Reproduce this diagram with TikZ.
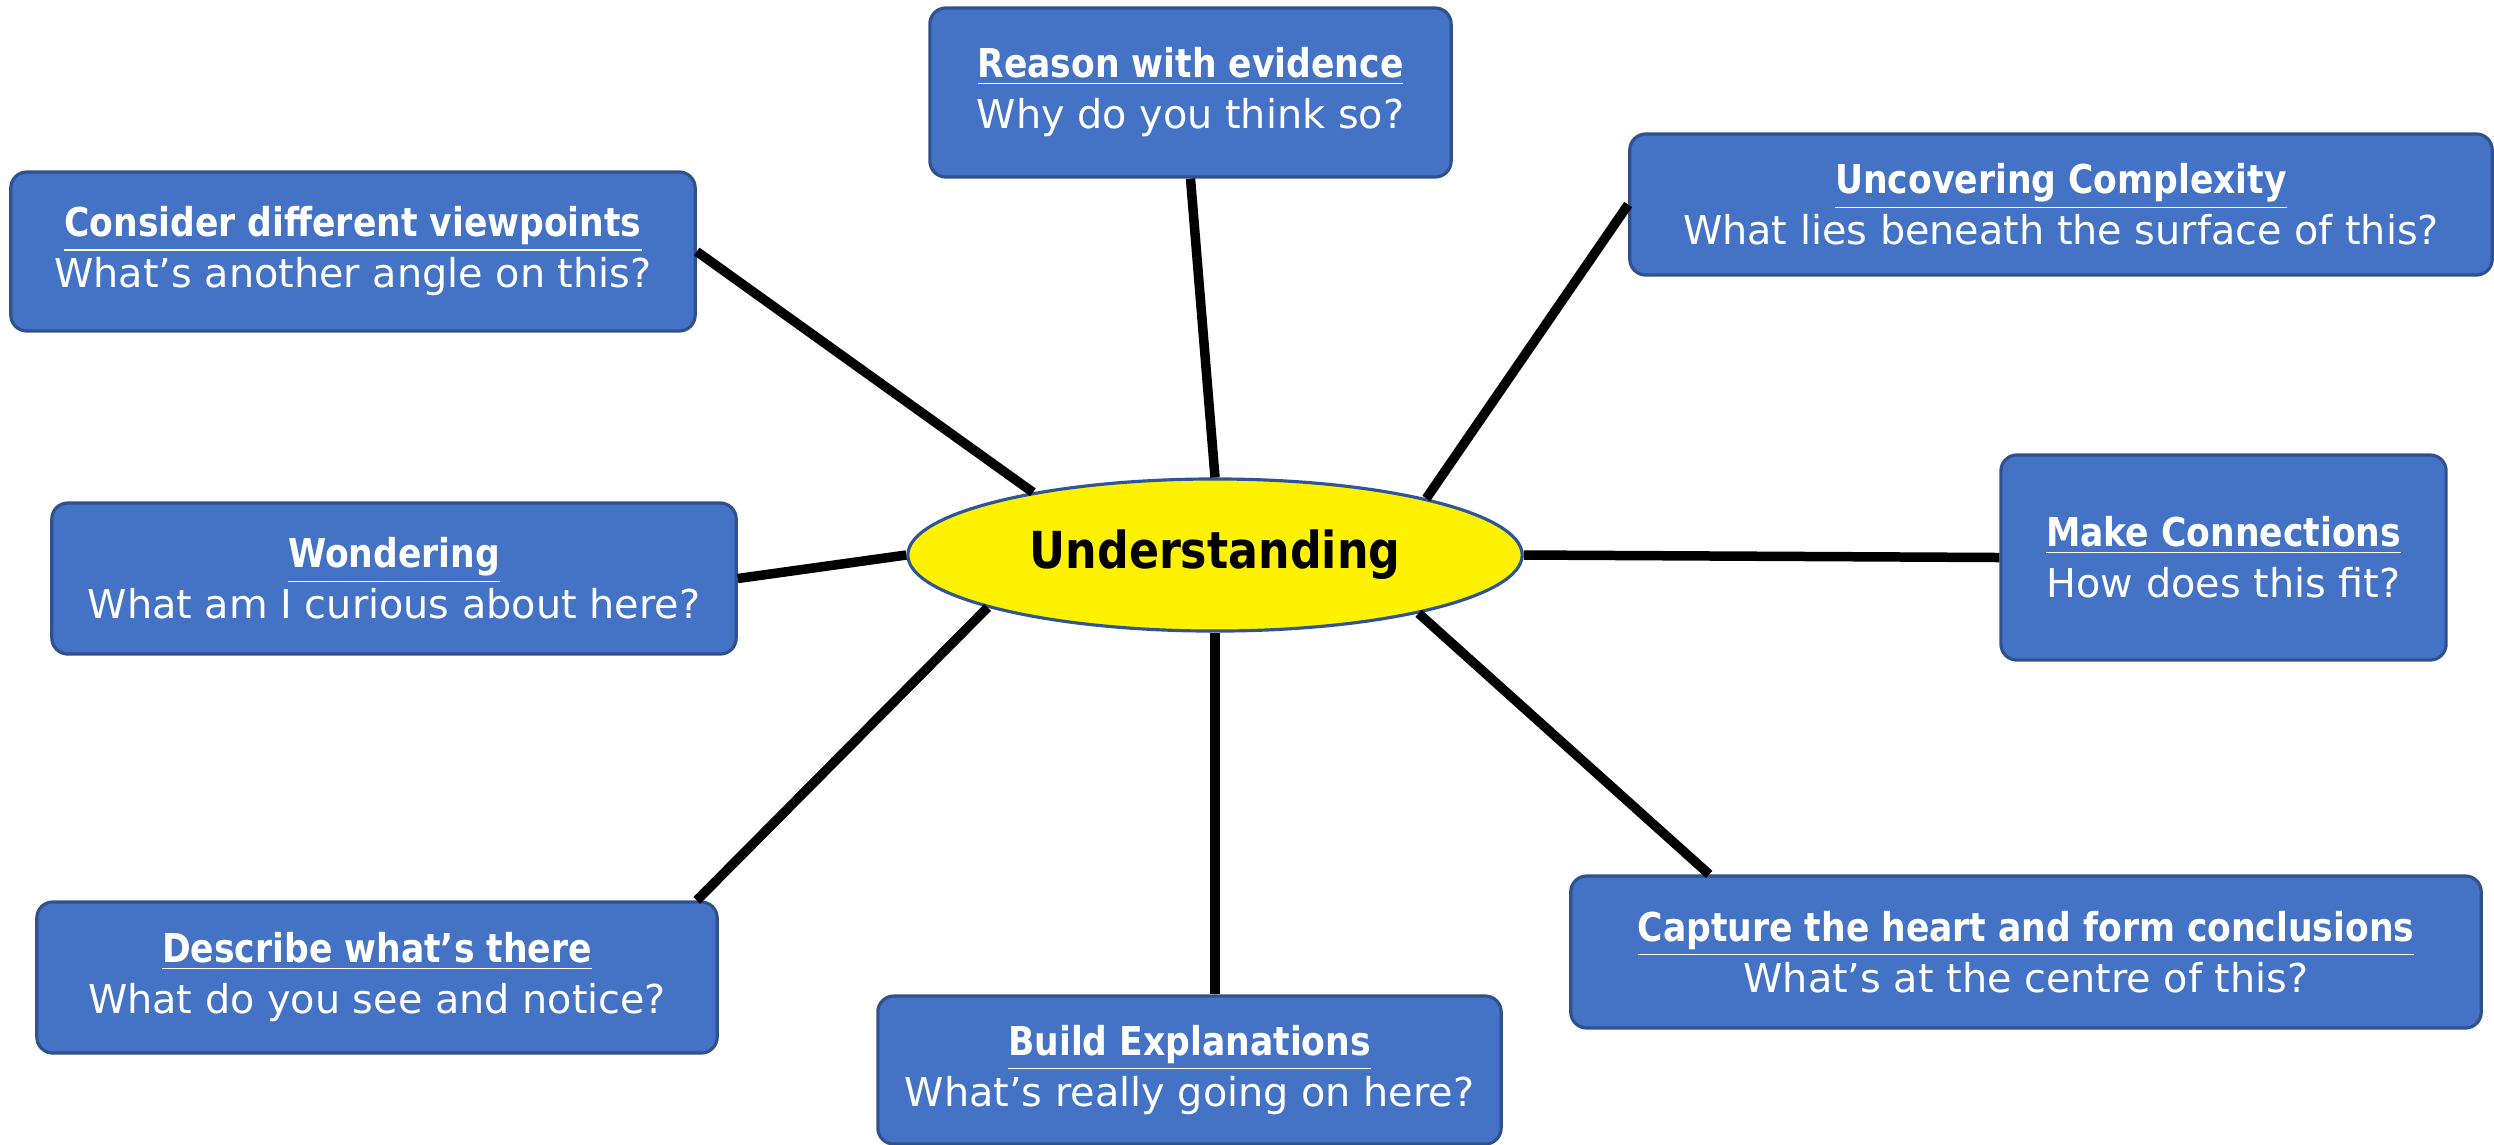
\documentclass[tikz,border=0pt]{standalone}
\usepackage{fontspec}
\setmainfont{DejaVu Sans}[BoldFeatures={FakeStretch=0.87}]
\usetikzlibrary{shapes.geometric}
\definecolor{cardfill}{HTML}{4472C4}
\definecolor{cardedge}{HTML}{2F528F}
\definecolor{hubedge}{HTML}{2F5597}
\begin{document}
\begin{tikzpicture}[x=0.01cm,y=-0.01cm]
\tikzset{
  card/.style={draw=cardedge, fill=cardfill, rounded corners=0.16cm, line width=0.9pt,
    text=white, align=center, inner sep=0pt, font=\fontsize{11.3}{14.5}\selectfont},
  hub/.style={ellipse, draw=hubedge, fill=yellow, line width=0.9pt, inner sep=0pt,
    minimum width=6.14cm, minimum height=1.52cm, font=\fontsize{14.5}{17}\selectfont\bfseries},
  spoke/.style={line width=2.7pt, black}
}
\useasboundingbox (0,0) rectangle (2494,1144);

\node[hub] (under) at (1215,555) {Understanding};

\node[card, minimum width=5.21cm, minimum height=1.69cm] (reason) at (1190.5,92.5)
  {\textbf{\underline{Reason with evidence}}\\Why do you think so?};
\node[card, minimum width=6.84cm, minimum height=1.59cm] (consider) at (353,251.5)
  {\textbf{\underline{Consider different viewpoints}}\\What’s another angle on this?};
\node[card, minimum width=8.62cm, minimum height=1.41cm] (uncover) at (2061,204.5)
  {\textbf{\underline{Uncovering Complexity}}\\What lies beneath the surface of this?};
\node[card, minimum width=6.84cm, minimum height=1.51cm] (wonder) at (394,578.5)
  {\textbf{\underline{Wondering}}\\What am I curious about here?};
\node[card, minimum width=4.45cm, minimum height=2.05cm] (connect) at (2223.5,557.5)
  {\textbf{\underline{Make Connections}}\\How does this fit?};
\node[card, minimum width=6.80cm, minimum height=1.51cm] (describe) at (377,977.5)
  {\textbf{\underline{Describe what’s there}}\\What do you see and notice?};
\node[card, minimum width=6.23cm, minimum height=1.48cm] (build) at (1189.5,1070)
  {\textbf{\underline{Build Explanations}}\\What’s really going on here?};
\node[card, minimum width=9.10cm, minimum height=1.52cm] (capture) at (2026,952)
  {\textbf{\underline{Capture the heart and form conclusions}}\\What’s at the centre of this?};

\draw[spoke] (under.90) -- (reason.south);
\draw[spoke] (under.161.6) -- (consider.east);
\draw[spoke] (under.15.4) -- (uncover.west);
\draw[spoke] (under.180) -- (wonder.east);
\draw[spoke] (under.0) -- (connect.west);
\draw[spoke] (under.193.9) -- ([xshift=-0.22cm]describe.north east);
\draw[spoke] (under.south) -- (under.south |- build.north);
\draw[spoke] (under.-16) -- ([xshift=1.40cm]capture.north west);
\end{tikzpicture}
\end{document}
